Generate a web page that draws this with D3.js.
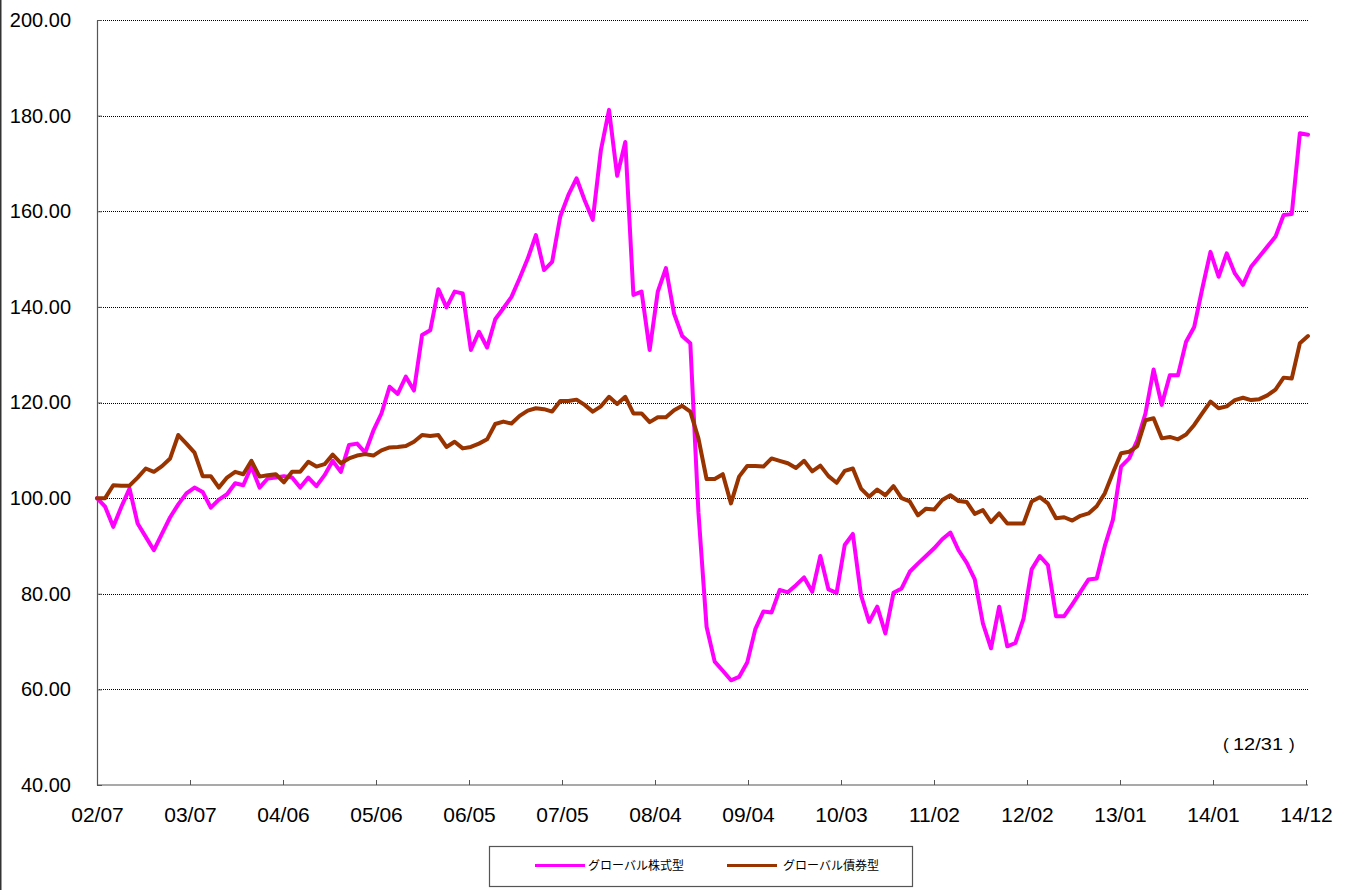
<!DOCTYPE html>
<html>
<head>
<meta charset="utf-8">
<script src="https://cdn.jsdelivr.net/npm/d3@7"></script>
<style>
  html, body { margin: 0; padding: 0; background: #fff; }
  svg { display: block; }
</style>
</head>
<body>
<svg id="chart" width="1346" height="890"></svg>
<script>
// ---- data ----
const seriesNames = ["グローバル株式型", "グローバル債券型"];
const tickLabels = ["02/07","03/07","04/06","05/06","06/05","07/05","08/04","09/04","10/03","11/02","12/02","13/01","14/01","14/12"];
const yTicks = [40, 60, 80, 100, 120, 140, 160, 180, 200];

const stockValues = [
  100.0, 98.2, 94.0, 98.2, 102.0, 94.7, 91.9, 89.1, 92.6, 96.0, 98.7, 101.0, 102.2, 101.3, 98.0, 99.7, 100.8, 103.1, 102.7, 106.6, 102.2, 104.1, 104.3, 104.6, 104.3, 102.2, 104.3,
  102.5, 104.8, 107.8, 105.5, 111.1, 111.4, 109.5, 114.1, 117.7, 123.3, 121.8, 125.4, 122.5, 134.1, 135.1, 143.7, 139.9, 143.2, 142.8, 131.0, 134.8, 131.5,
  137.4, 139.7, 142.1, 146.0, 150.1, 155.0, 147.7, 149.4, 158.9, 163.4, 166.9, 162.3, 158.2, 172.8, 181.2, 167.4, 174.5, 142.5, 143.2, 131.0, 143.2, 148.1, 138.6, 133.9, 132.4,
  97.0, 73.1, 65.8, 63.9, 61.9, 62.6, 65.6, 72.6, 76.3, 76.1, 80.8, 80.3, 81.8, 83.4, 80.4, 87.9, 80.9, 80.2, 90.2, 92.5,
  79.7, 74.1, 77.3, 71.7, 80.2, 81.1, 84.6, 86.3, 87.9, 89.5, 91.4, 92.8, 89.1, 86.5, 83.0, 73.8, 68.6, 77.3, 69.0, 69.7,
  74.8, 85.1, 87.9, 86.0, 75.3, 75.3, 77.8, 80.4, 83.0, 83.2, 90.0, 95.5, 106.6, 108.3, 112.1, 117.7, 126.9, 119.5, 125.7, 125.7,
  132.7, 135.8, 143.9, 151.5, 146.3, 151.2, 147.0, 144.6, 148.4, 150.5, 152.6, 154.7, 159.2, 159.4, 176.3, 176.0
];

const bondValues = [
  100.0, 100.0, 102.7, 102.6, 102.6, 104.3, 106.2, 105.5, 106.7, 108.3, 113.2, 111.4, 109.5, 104.6, 104.6, 102.2, 104.3, 105.5, 105.0, 107.8, 104.5, 104.8, 105.0, 103.3, 105.5, 105.5, 107.6,
  106.6, 107.1, 109.1, 107.3, 108.3, 108.9, 109.2, 108.9, 110.0, 110.6, 110.7, 110.9, 111.8, 113.2, 113.0, 113.2, 110.7, 111.8, 110.4, 110.7, 111.4, 112.3,
  115.5, 116.0, 115.6, 117.2, 118.3, 118.8, 118.6, 118.1, 120.3, 120.3, 120.6, 119.5, 118.1, 119.2, 121.2, 119.7, 121.2, 117.7, 117.7, 115.9, 116.9, 116.9, 118.4, 119.3, 118.1,
  112.5, 104.0, 104.0, 105.0, 98.9, 104.5, 106.7, 106.7, 106.6, 108.3, 107.8, 107.3, 106.3, 107.8, 105.6, 106.8, 104.6, 103.2, 105.7, 106.2,
  102.0, 100.3, 101.8, 100.6, 102.5, 100.0, 99.3, 96.4, 97.8, 97.6, 99.6, 100.6, 99.4, 99.2, 96.7, 97.5, 95.0, 96.8, 94.7, 94.7,
  94.7, 99.3, 100.2, 98.9, 95.8, 96.0, 95.3, 96.3, 96.8, 98.3, 101.0, 105.3, 109.4, 109.7, 110.9, 116.3, 116.7, 112.5, 112.8, 112.3,
  113.3, 115.3, 117.8, 120.2, 118.8, 119.2, 120.5, 121.0, 120.5, 120.7, 121.5, 122.7, 125.2, 125.0, 132.4, 133.9
];

const colors = ["#FF00FF", "#993300"];
const annotationDate = "12/31";

// ---- layout ----
const plot = { left: 97, right: 1308, top: 20, bottom: 785 };
const numFont = "'Liberation Sans', Arial, sans-serif";
const jpFont = "'Noto Sans CJK JP', 'Noto Sans', sans-serif";

const svg = d3.select("#chart");

// left border of chart area
svg.append("line")
  .attr("x1", 0.75).attr("x2", 0.75).attr("y1", 0).attr("y2", 890)
  .attr("stroke", "#333").attr("stroke-width", 1.5);

const x = d3.scaleLinear().domain([0, stockValues.length - 1]).range([plot.left, plot.right]);
const y = d3.scaleLinear().domain([40, 200]).range([plot.bottom, plot.top]);
const xTick = d3.scalePoint().domain(tickLabels).range([plot.left, 1306]);

// gridlines
const grid = svg.append("g")
  .attr("transform", `translate(${plot.left},0)`)
  .call(d3.axisLeft(y).tickValues(yTicks.filter(d => d > 40)).tickSize(-(plot.right - plot.left)).tickFormat(""));
grid.select(".domain").remove();
grid.selectAll(".tick line")
  .attr("stroke", "#000").attr("stroke-width", 1).attr("stroke-dasharray", "1,1").attr("shape-rendering", "crispEdges");

// y axis
const yAxis = svg.append("g")
  .attr("transform", `translate(${plot.left},0)`)
  .call(d3.axisLeft(y).tickValues(yTicks).tickFormat(d3.format(".2f")).tickSizeInner(-5).tickSizeOuter(0).tickPadding(26));
yAxis.select(".domain").attr("stroke", "#555").attr("stroke-width", 1.2);
yAxis.selectAll(".tick line").attr("stroke", "#555");
yAxis.selectAll("text")
  .attr("x", -26)
  .attr("font-family", numFont).attr("font-size", 20).attr("fill", "#000");

// x axis
const xAxis = svg.append("g")
  .attr("transform", `translate(0,${plot.bottom})`)
  .call(d3.axisBottom(xTick).tickSizeInner(-5).tickSizeOuter(0).tickPadding(22));
xAxis.select(".domain").attr("stroke", "#555").attr("stroke-width", 1.2)
  .attr("d", `M${plot.left},0H${plot.right}`);
xAxis.selectAll(".tick line").attr("stroke", "#555");
xAxis.selectAll("text")
  .attr("y", 22)
  .attr("font-family", numFont).attr("font-size", 21).attr("fill", "#000");

// lines
const lineGen = d3.line().x((d, i) => x(i)).y(d => y(d));
[stockValues, bondValues].forEach((vals, k) => {
  svg.append("path")
    .datum(vals)
    .attr("d", lineGen)
    .attr("fill", "none")
    .attr("stroke", colors[k])
    .attr("stroke-width", 4)
    .attr("stroke-linejoin", "round")
    .attr("stroke-linecap", "round");
});

// annotation
const ann = svg.append("text")
  .attr("y", 750)
  .attr("font-family", numFont).attr("font-size", 17).attr("fill", "#000");
ann.append("tspan").attr("x", 1223).text("(");
ann.append("tspan").attr("x", 1233).attr("textLength", 50).attr("lengthAdjust", "spacingAndGlyphs").text(annotationDate);
ann.append("tspan").attr("x", 1289).text(")");

// legend
const legend = svg.append("g");
legend.append("rect")
  .attr("x", 489.5).attr("y", 846.5).attr("width", 423).attr("height", 40)
  .attr("fill", "#fff").attr("stroke", "#555").attr("stroke-width", 1.2);
const legendItems = [{ x: 535, tx: 588 }, { x: 727, tx: 783 }];
seriesNames.forEach((name, k) => {
  const it = legendItems[k];
  legend.append("line")
    .attr("x1", it.x).attr("x2", it.x + 50).attr("y1", 865.5).attr("y2", 865.5)
    .attr("stroke", colors[k]).attr("stroke-width", 3);
  legend.append("text")
    .attr("x", it.tx).attr("y", 870)
    .attr("font-family", jpFont).attr("font-size", 12).attr("fill", "#000")
    .text(name);
});
</script>
</body>
</html>
